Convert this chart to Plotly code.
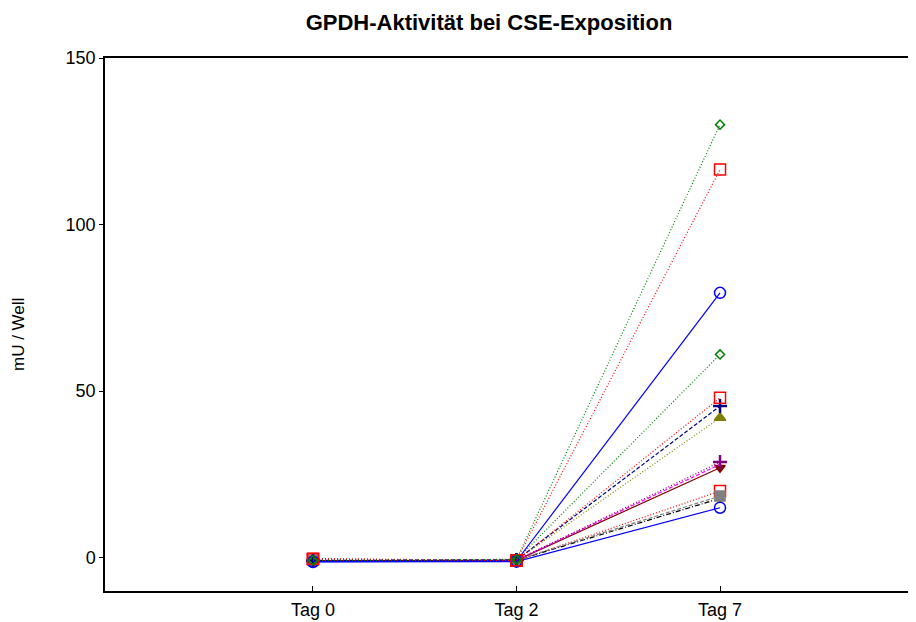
import plotly.graph_objects as go

days = ["Tag 0", "Tag 2", "Tag 7"]
xpos = [0, 1, 2]

s01 = [-0.8, -0.5, 130.0]
s02 = [-0.3, -0.8, 116.5]
s03 = [-1.2, -1.0, 79.5]
s04 = [-0.7, -0.6, 61.0]
s05 = [-0.4, -0.9, 48.0]
s06 = [-0.9, -0.7, 45.5]
s07 = [-0.8, -0.7, 42.0]
s08 = [-0.9, -0.7, 28.7]
s09 = [-0.8, -0.7, 28.0]
s10 = [-0.9, -0.8, 27.0]
s11 = [-0.5, -0.9, 20.0]
s12 = [-0.8, -0.7, 18.5]
s13 = [-0.9, -0.8, 17.8]
s14 = [-1.3, -1.2, 15.0]

DOT = "1px,2px"
DASH = "4px,2px"
DASHDOT = "5px,2px,1px,2px"

series = [
    (s01, "#008000", DOT, "diamond-open", 7),
    (s02, "#ff0000", DOT, "square-open", 11),
    (s03, "#0000ff", "solid", "circle-open", 11),
    (s04, "#008000", DOT, "diamond-open", 7),
    (s05, "#ff0000", DOT, "square-open", 11),
    (s06, "#000080", DASH, "cross-thin-open", 10),
    (s07, "#808000", DOT, "triangle-up", 10),
    (s08, "#800080", DOT, "cross-thin-open", 10),
    (s09, "#ff00ff", DASH, "circle", 1),
    (s10, "#800000", "solid", "triangle-down", 9),
    (s12, "#808080", DASH, "square", 10),
    (s11, "#ff0000", DOT, "square-open", 11),
    (s13, "#000000", DASHDOT, "diamond", 5),
    (s14, "#0000ff", "solid", "circle-open", 11),
]

fig = go.Figure()
for vals, col, dash, sym, size in reversed(series):
    lw = 2.5 if "thin" in sym else 1.5
    fig.add_trace(go.Scatter(
        x=xpos, y=vals, mode="lines+markers",
        line=dict(color=col, width=1.2, dash=dash),
        marker=dict(symbol=sym, size=size, color=col, line=dict(color=col, width=lw)),
        showlegend=False,
    ))

W, H = 908, 614
L, T, B = 97, 50, 31
pw, ph = W - L, H - T - B

fig.update_layout(
    width=W, height=H,
    margin=dict(l=L, r=0, t=T, b=B),
    paper_bgcolor="white", plot_bgcolor="white",
    font=dict(family="Liberation Sans, Arial, sans-serif", size=18, color="black"),
    title=dict(text="<b>GPDH-Aktivität bei CSE-Exposition</b>",
               x=481 / W, xanchor="center", y=1 - 14 / H, yanchor="middle",
               font=dict(size=22, color="black")),
    xaxis=dict(range=[-1.022, 2.963], tickvals=xpos, ticktext=days,
               showgrid=False, zeroline=False, showline=True, linecolor="black",
               linewidth=1.5, mirror=True, ticks="inside", ticklen=5,
               tickcolor="black", automargin=False, ticklabelstandoff=2),
    yaxis=dict(range=[-10, 150], tickvals=[0, 50, 100, 150],
               showgrid=False, zeroline=False, showline=True, linecolor="black",
               linewidth=1.5, ticks="outside", ticklen=4, tickcolor="black",
               automargin=False),
    annotations=[dict(text="mU / Well", textangle=-90, xref="paper", yref="paper",
                      x=(10 - L) / pw, y=(T + ph - 327) / ph,
                      xanchor="center", yanchor="middle", showarrow=False,
                      font=dict(size=17))],
)

fig.write_html("out.html")
